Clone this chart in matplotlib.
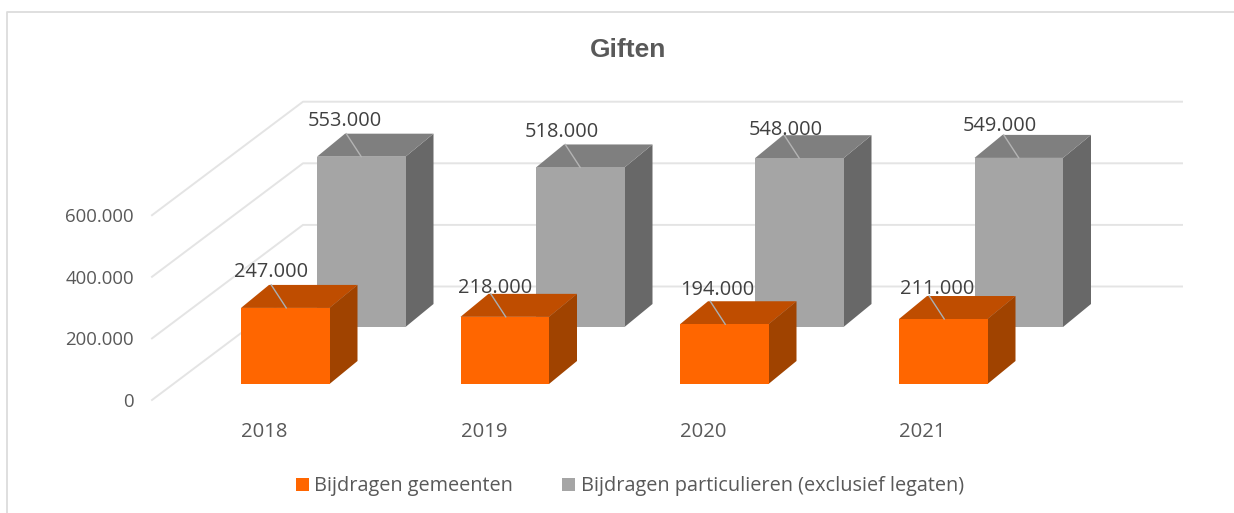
import matplotlib
matplotlib.use('Agg')
import matplotlib.pyplot as plt
from matplotlib.patches import Polygon, Rectangle

years = ['2018', '2019', '2020', '2021']
gemeenten = [247000, 218000, 194000, 211000]
particulieren = [553000, 518000, 548000, 549000]
y_ticks = [0, 200000, 400000, 600000]
series_names = ['Bijdragen gemeenten', 'Bijdragen particulieren (exclusief legaten)']

# pixel geometry of the fake 3d chart
scale = 61.6 / 200000
bar_w = 88.5
dx, dy = 28, 23
front_base = 384
back_base = 327
front_x = [241, 460.5, 680, 899]
back_x = [317, 536, 755, 974.5]

def fmt(v):
    return f'{v:,}'.replace(',', '.')

def draw_bar(ax, x, base, value, front, top, side, z):
    h = value * scale
    t = base - h
    ax.add_patch(Polygon([(x + bar_w, base), (x + bar_w + dx, base - dy), (x + bar_w + dx, t - dy), (x + bar_w, t)], fc=side, ec='none', zorder=z))
    ax.add_patch(Polygon([(x, t), (x + dx, t - dy), (x + bar_w + dx, t - dy), (x + bar_w, t)], fc=top, ec='none', zorder=z))
    ax.add_patch(Rectangle((x, t), bar_w, h, fc=front, ec='none', zorder=z))
    return t

plt.rcParams['font.family'] = ['Open Sans', 'DejaVu Sans']
fig = plt.figure(figsize=(12.34, 5.13), dpi=100)
ax = fig.add_axes([0, 0, 1, 1])
ax.set_xlim(0, 1234)
ax.set_ylim(513, 0)
ax.axis('off')

# frame
ax.plot([7, 7, 1234], [513, 12, 12], color='#dcdcdc', lw=1.3, zorder=1)

# gridlines, left wall and back wall
for v in y_ticks:
    y0 = 400 - v * scale
    ax.plot([152, 303, 1182], [y0, y0 - 113.5, y0 - 113.5], color='#e4e4e4', lw=1.4, zorder=1)
    ax.text(134, y0 + 2, fmt(v), ha='right', va='center', fontsize=13.4, color='#595959', zorder=6)

label_back = [(345, 121), (562, 132), (786, 130), (1000, 126)]
label_front = [(271, 272), (495, 288), (717, 290), (937, 289)]

for i in range(len(years)):
    t = draw_bar(ax, back_x[i], back_base, particulieren[i], '#a5a5a5', '#7f7f7f', '#686868', 3)
    mid = back_x[i] + bar_w / 2
    ax.plot([mid - 15, mid], [t - dy, t], color='#b4b4b4', lw=1, zorder=4)
for i in range(len(years)):
    t = draw_bar(ax, front_x[i], front_base, gemeenten[i], '#ff6600', '#bf4d00', '#a04300', 5)
    mid = front_x[i] + bar_w / 2
    ax.plot([mid - 14, mid + 1], [t - dy, t], color='#a9b0b5', lw=1, zorder=5.5)
    ax.text(mid - 21, 432, years[i], ha='center', va='center', fontsize=14.6, color='#595959')

for i in range(len(years)):
    ax.text(*label_back[i], fmt(particulieren[i]), ha='center', va='center', fontsize=14.4, color='#404040', zorder=7)
    ax.text(*label_front[i], fmt(gemeenten[i]), ha='center', va='center', fontsize=14.4, color='#404040', zorder=7)

ax.text(628, 50, 'Giften', ha='center', va='center', fontsize=19, fontweight='bold', color='#595959', family='Liberation Sans')

# legend
ax.add_patch(Rectangle((296, 478), 13, 12.5, fc='#ff6600', ec='none'))
ax.text(314, 486, series_names[0], ha='left', va='center', fontsize=14.35, color='#595959')
ax.add_patch(Rectangle((562, 478), 13, 12.5, fc='#a5a5a5', ec='none'))
ax.text(581, 486, series_names[1], ha='left', va='center', fontsize=14.35, color='#595959')

fig.savefig('out.png', dpi=100)
